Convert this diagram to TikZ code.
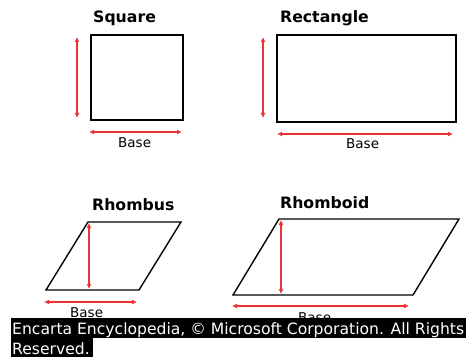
\documentclass[tikz,border=0pt]{standalone}
\usepackage{fontspec}
\setmainfont{DejaVu Sans}
\usetikzlibrary{arrows.meta}
\definecolor{dimred}{RGB}{232,52,52}
\tikzset{
  shape line/.style={draw=black, line width=1.4pt, line join=miter},
  dimline/.style={draw=dimred, line width=1.3pt, {Latex[length=5pt,width=5pt]}-{Latex[length=5pt,width=5pt]}},
  title/.style={font=\fontsize{15.7}{18}\selectfont\bfseries, inner sep=0pt, anchor=base west},
  baselabel/.style={font=\fontsize{13.5}{16}\selectfont, inner sep=0pt, anchor=base west},
  credit/.style={inner sep=0pt, anchor=base west, text=white, font=\fontsize{15.6}{18}\selectfont},
  band/.style={fill=black, draw=none}
}
\begin{document}
\begin{tikzpicture}[x=1pt,y=-1pt]
\useasboundingbox (0,0) rectangle (468,358);
% Square
\node[title] (tsq) at (93,23) {Square};
\coordinate (sqa) at (91,35); \coordinate (sqb) at (183,35);
\coordinate (sqc) at (183,120); \coordinate (sqd) at (91,120);
\draw[shape line] (sqa) -- (sqb) -- (sqc) -- (sqd) -- cycle;
\coordinate (sqv1) at (77,37); \coordinate (sqv2) at (77,118);
\draw[dimline] (sqv1) -- (sqv2);
\coordinate (sqh1) at (89,132); \coordinate (sqh2) at (182,132);
\draw[dimline] (sqh1) -- (sqh2);
\node[baselabel] (bsq) at (118,148) {Base};
% Rectangle
\node[title] (trc) at (280,23) {Rectangle};
\coordinate (rca) at (277,35); \coordinate (rcb) at (456,35);
\coordinate (rcc) at (456,122); \coordinate (rcd) at (277,122);
\draw[shape line] (rca) -- (rcb) -- (rcc) -- (rcd) -- cycle;
\coordinate (rcv1) at (263,37); \coordinate (rcv2) at (263,118);
\draw[dimline] (rcv1) -- (rcv2);
\coordinate (rch1) at (277,134); \coordinate (rch2) at (453,134);
\draw[dimline] (rch1) -- (rch2);
\node[baselabel] (brc) at (346,149) {Base};
% Rhombus
\node[title] (trh) at (92,211) {Rhombus};
\coordinate (rha) at (88,222); \coordinate (rhb) at (181,222);
\coordinate (rhc) at (139,290); \coordinate (rhd) at (46,290);
\draw[shape line] (rha) -- (rhb) -- (rhc) -- (rhd) -- cycle;
\coordinate (rhv1) at (89,223); \coordinate (rhv2) at (89,289);
\draw[dimline] (rhv1) -- (rhv2);
\coordinate (rhh1) at (44,302); \coordinate (rhh2) at (137,302);
\draw[dimline] (rhh1) -- (rhh2);
\node[baselabel] (brh) at (70,317) {Base};
% Rhomboid
\node[title] (tro) at (280,208) {Rhomboid};
\coordinate (roa) at (279,219); \coordinate (rob) at (459,219);
\coordinate (roc) at (413,295); \coordinate (rod) at (233,295);
\draw[shape line] (roa) -- (rob) -- (roc) -- (rod) -- cycle;
\coordinate (rov1) at (281,220); \coordinate (rov2) at (281,294);
\draw[dimline] (rov1) -- (rov2);
\coordinate (roh1) at (232,306); \coordinate (roh2) at (409,306);
\draw[dimline] (roh1) -- (roh2);
\node[baselabel] (bro) at (298,322) {Base};
% Credit band
\fill[band] (11,318) rectangle (466,337.5);
\fill[band] (11,337) rectangle (93,357);
\node[credit] (cr1) at (12,334.5) {Encarta Encyclopedia, © Microsoft Corporation. All Rights};
\node[credit] (cr2) at (12,354) {Reserved.};
\end{tikzpicture}
\end{document}
